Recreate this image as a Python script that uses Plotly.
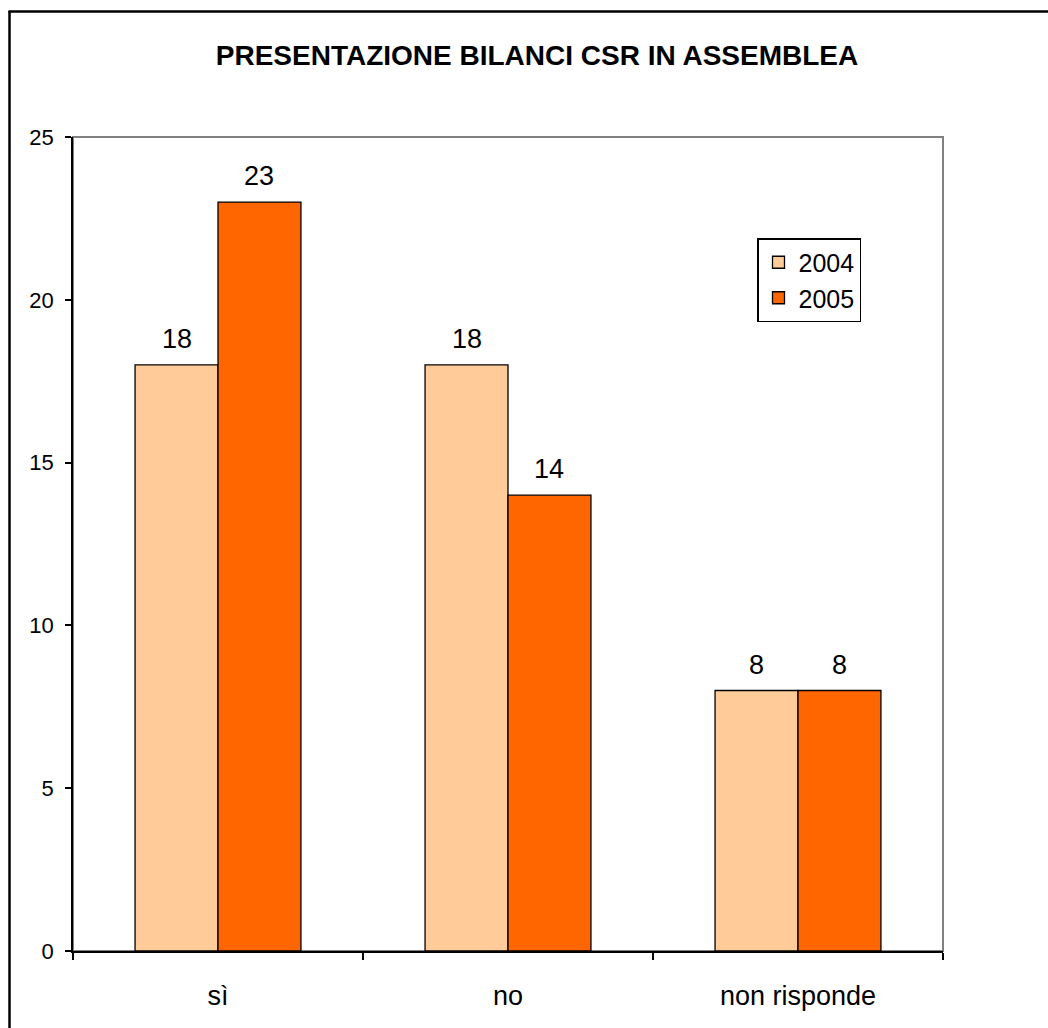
import plotly.graph_objects as go

categories = ["sì", "no", "non risponde"]
series_names = ["2004", "2005"]
values_2004 = [18, 18, 8]
values_2005 = [23, 14, 8]
y_ticks = [0, 5, 10, 15, 20, 25]
title_text = "PRESENTAZIONE BILANCI CSR IN ASSEMBLEA"

FONT = "Liberation Sans, Arial, sans-serif"
colors = ["#FFCC99", "#FF6600"]

W, H = 1048, 1028
L, R, T, B = 73, 105, 137, 77
pw, ph = W - L - R, H - T - B
BARGAP = 0.428
bar_px = pw / len(categories) * (1 - BARGAP) / len(series_names)

def px(x):
    return (x - L) / pw

def py(y):
    return 1 - (y - T) / ph

fig = go.Figure()
annotations = []
for k, (name, vals, col) in enumerate(zip(series_names, [values_2004, values_2005], colors)):
    fig.add_trace(go.Bar(
        x=categories, y=vals, name=name,
        marker=dict(color=col, line=dict(color="black", width=1.3)),
    ))
    shift = (k - (len(series_names) - 1) / 2) * bar_px
    for c, v in zip(categories, vals):
        annotations.append(dict(
            x=c, y=v, xref="x", yref="y", text=str(v), showarrow=False,
            xshift=shift, yshift=9, yanchor="bottom", xanchor="center",
            font=dict(family=FONT, size=27, color="black")))

fig.update_layout(
    width=W, height=H,
    margin=dict(l=L, r=R, t=T, b=B),
    paper_bgcolor="white", plot_bgcolor="white",
    barmode="group", bargap=BARGAP, bargroupgap=0,
    font=dict(family=FONT, color="black"),
    title=dict(text="<b>" + title_text + "</b>", xref="container", x=537 / W,
               xanchor="center", y=1 - 55 / H, yanchor="middle",
               font=dict(family=FONT, size=28, color="black")),
    showlegend=True,
    legend=dict(x=px(757), y=py(238), xanchor="left", yanchor="top",
                bordercolor="black", borderwidth=1.5, bgcolor="white",
                font=dict(family=FONT, size=25, color="black"),
                tracegroupgap=0, itemwidth=30),
    xaxis=dict(range=[-0.5, 2.5], showline=True, linecolor="black", linewidth=1.5,
               ticks="outside", tickson="boundaries", ticklen=7, tickcolor="black",
               tickwidth=1.5, showgrid=False, zeroline=False, ticklabelstandoff=20,
               tickfont=dict(family=FONT, size=27, color="black")),
    yaxis=dict(range=[0, 25], tickvals=y_ticks, showline=True, linecolor="black",
               linewidth=1.5, ticks="outside", ticklen=6, tickcolor="black",
               tickwidth=1.5, showgrid=False, zeroline=False, ticklabelstandoff=7,
               tickfont=dict(family=FONT, size=22, color="black")),
    annotations=annotations,
    shapes=[
        dict(type="rect", xref="paper", yref="paper", x0=0, x1=1, y0=0, y1=1,
             line=dict(color="#808080", width=2), layer="below"),
        dict(type="line", xref="paper", yref="paper", x0=px(9.5), x1=px(9.5),
             y0=py(11), y1=py(H + 5), line=dict(color="black", width=2.5)),
        dict(type="line", xref="paper", yref="paper", x0=px(8.5), x1=px(W + 5),
             y0=py(11.5), y1=py(11.5), line=dict(color="black", width=2.5)),
    ],
)

fig.write_html("out.html", config={"displayModeBar": False},
               post_script="document.body.style.margin='0px';")
